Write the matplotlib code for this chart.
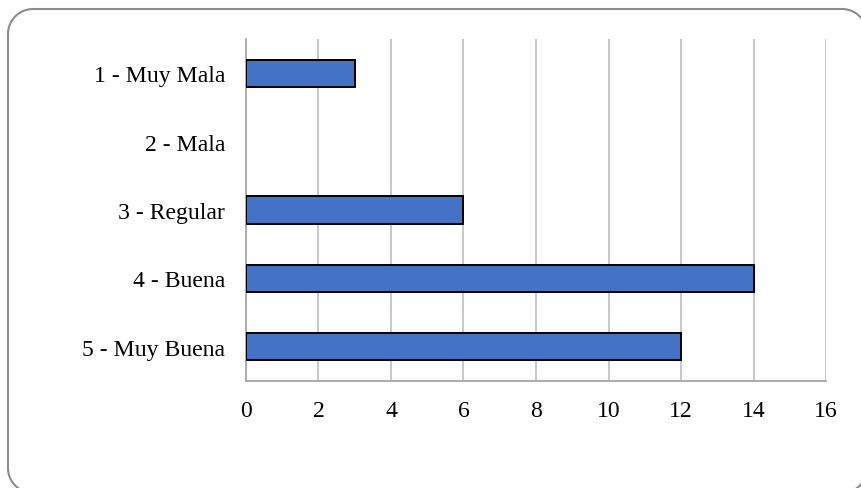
import matplotlib
matplotlib.use("Agg")
import numpy as np
import matplotlib.pyplot as plt
from matplotlib.lines import Line2D
from matplotlib.transforms import IdentityTransform

categories = ["1 - Muy Mala", "2 - Mala", "3 - Regular", "4 - Buena", "5 - Muy Buena"]
values = [3, 0, 6, 14, 12]
xticks = [0, 2, 4, 6, 8, 10, 12, 14, 16]

plt.rcParams['font.family'] = ['Liberation Serif', 'DejaVu Serif']

W, H = 862, 489
fig = plt.figure(figsize=(W/100, H/100), dpi=100)
ax = fig.add_axes([246/W, 1-382/H, (826-246)/W, (382-40)/H])

ypos = list(range(len(categories)))
edges = ['black' if v > 0 else 'none' for v in values]
ax.barh(ypos, values, height=0.4, color='#4472C4', edgecolor=edges, linewidth=1.4, zorder=3)
ax.set_ylim(len(categories)-0.5, -0.5)
ax.set_yticks(ypos)
ax.set_yticklabels(categories)
ax.set_xlim(0, 16)
ax.set_xticks(xticks)
ax.set_xticklabels([str(t) for t in xticks])
ax.tick_params(axis='both', length=0, labelsize=17.1, colors='black')
ax.tick_params(axis='y', pad=15)
ax.tick_params(axis='x', pad=14)
ax.grid(axis='x', color='#BFBFBF', linewidth=1.2, zorder=0)
for s in ['top', 'right']:
    ax.spines[s].set_visible(False)
for s in ['left', 'bottom']:
    ax.spines[s].set_color('#A6A6A6')
    ax.spines[s].set_linewidth(1.3)

# rounded frame in pixel coordinates (image y measured from top)
x0, x1, yt, yb, r = 8, 867, 10, 494, 25
pts = []
def arc(cx, cy, a0, a1):
    for a in np.linspace(a0, a1, 20):
        pts.append((cx + r*np.cos(a), cy + r*np.sin(a)))
arc(x0 + r, yt + r, np.pi, 1.5*np.pi)
arc(x1 - r, yt + r, 1.5*np.pi, 2*np.pi)
arc(x1 - r, yb - r, 0, 0.5*np.pi)
arc(x0 + r, yb - r, 0.5*np.pi, np.pi)
pts.append(pts[0])
px = [p[0] for p in pts]
py = [H - p[1] for p in pts]
fig.add_artist(Line2D(px, py, transform=IdentityTransform(), color='#8C8C8C', linewidth=1.5))

fig.savefig("out.png", dpi=100)
